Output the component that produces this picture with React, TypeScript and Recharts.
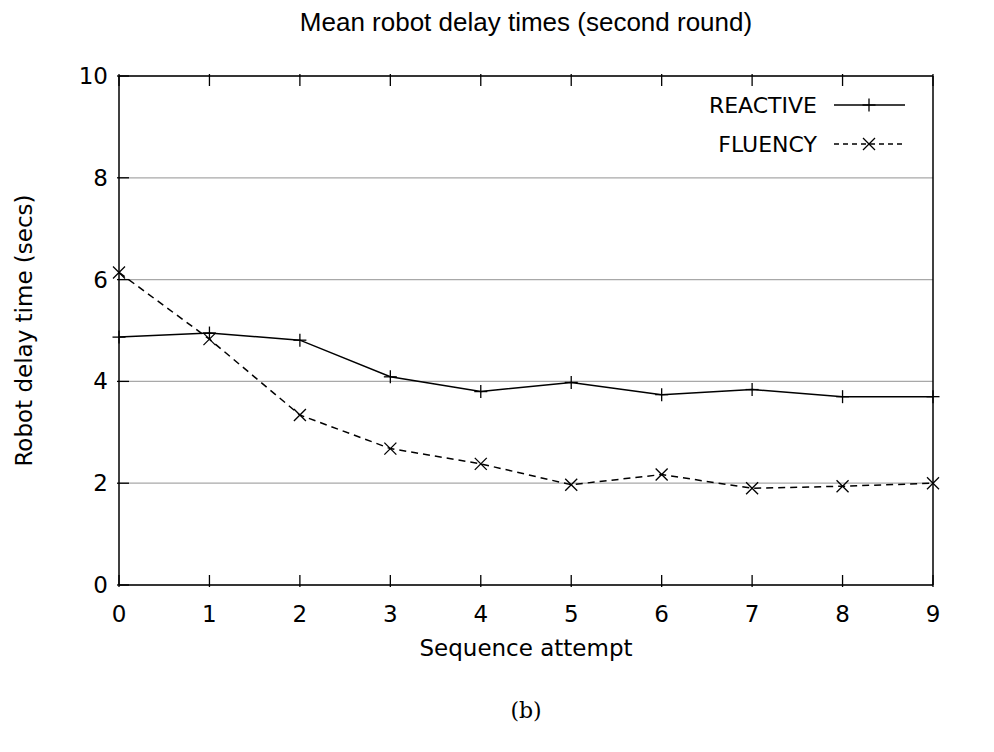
import React from 'react';
import { LineChart, Line, XAxis, YAxis, CartesianGrid, Legend, Label } from 'recharts';

const attempts = [0, 1, 2, 3, 4, 5, 6, 7, 8, 9];
const reactive = [4.87, 4.95, 4.81, 4.09, 3.8, 3.98, 3.74, 3.84, 3.7, 3.7];
const fluency = [6.14, 4.83, 3.34, 2.68, 2.38, 1.97, 2.17, 1.9, 1.94, 2.0];
const seriesNames = ['REACTIVE', 'FLUENCY'];
const xTicks = [0, 1, 2, 3, 4, 5, 6, 7, 8, 9];
const yTicks = [0, 2, 4, 6, 8, 10];

const data = attempts.map((a, i) => ({ attempt: a, reactive: reactive[i], fluency: fluency[i] }));

const FONT = '"DejaVu Sans", Verdana, sans-serif';
const TICK = 12;

function BottomTick({ x, y, payload }: any) {
  return (
    <g>
      <line x1={x} y1={y} x2={x} y2={y - TICK} stroke="#000" strokeWidth={1.3} />
      <text x={x} y={y + 35} textAnchor="middle" fontFamily={FONT} fontSize={23} fill="#000">
        {payload.value}
      </text>
    </g>
  );
}

function TopTick({ x, y }: any) {
  return <line x1={x} y1={y} x2={x} y2={y + TICK} stroke="#000" strokeWidth={1.3} />;
}

function LeftTick({ x, y, payload }: any) {
  return (
    <g>
      <line x1={x} y1={y} x2={x + TICK} y2={y} stroke="#000" strokeWidth={1.3} />
      <text x={x - 9} y={y + 8} textAnchor="end" fontFamily={FONT} fontSize={23} fill="#000">
        {payload.value}
      </text>
    </g>
  );
}

function RightTick({ x, y, payload }: any) {
  return (
    <g>
      <line x1={x} y1={y} x2={x - TICK} y2={y} stroke="#000" strokeWidth={1.3} />
      <text x={x + 16} y={y + 8} textAnchor="start" fontFamily={FONT} fontSize={23} fill="#000">
        {payload.value}
      </text>
    </g>
  );
}

function PlusDot({ cx, cy }: any) {
  const s = 6.5;
  return (
    <g>
      <line x1={cx - s} y1={cy} x2={cx + s} y2={cy} stroke="#000" strokeWidth={1.3} />
      <line x1={cx} y1={cy - s} x2={cx} y2={cy + s} stroke="#000" strokeWidth={1.3} />
    </g>
  );
}

function CrossDot({ cx, cy }: any) {
  const s = 6;
  return (
    <g>
      <line x1={cx - s} y1={cy - s} x2={cx + s} y2={cy + s} stroke="#000" strokeWidth={1.3} />
      <line x1={cx - s} y1={cy + s} x2={cx + s} y2={cy - s} stroke="#000" strokeWidth={1.3} />
    </g>
  );
}

function renderLegend(props: any) {
  const items = [...(props.payload || [])].sort(
    (a: any, b: any) => seriesNames.indexOf(a.value) - seriesNames.indexOf(b.value)
  );
  return (
    <svg width={260} height={90} style={{ display: 'block' }}>
      {items.map((item: any, i: number) => {
        const ly = 27 + i * 39;
        const dashed = item.value === 'FLUENCY';
        return (
          <g key={item.value}>
            <text x={149} y={ly + 8} textAnchor="end" fontFamily={FONT} fontSize={22} fill="#000">
              {item.value}
            </text>
            <line
              x1={166}
              y1={ly}
              x2={237}
              y2={ly}
              stroke="#000"
              strokeWidth={1.3}
              strokeDasharray={dashed ? '5 4' : undefined}
            />
            {dashed ? <CrossDot cx={201} cy={ly} /> : <PlusDot cx={201} cy={ly} />}
          </g>
        );
      })}
    </svg>
  );
}

export default function App() {
  return (
    <div style={{ position: 'relative', width: 978, height: 744 }}>
      <LineChart width={978} height={744} data={data} margin={{ top: 38, right: 8, bottom: 47, left: 51 }}>
        <CartesianGrid xAxisId="bottom" yAxisId="left" vertical={false} stroke="#a8a8a8" strokeWidth={1.2} />
        <XAxis
          xAxisId="bottom"
          dataKey="attempt"
          type="number"
          domain={[0, 9]}
          ticks={xTicks}
          height={120}
          tickSize={0}
          tickLine={false}
          tick={<BottomTick />}
          axisLine={{ stroke: '#000', strokeWidth: 1.5 }}
          interval={0}
        >
          <Label
            content={({ viewBox }: any) => (
              <text
                x={viewBox.x + viewBox.width / 2}
                y={viewBox.y + 71}
                textAnchor="middle"
                fontFamily={FONT}
                fontSize={23}
                fill="#000"
              >
                Sequence attempt
              </text>
            )}
          />
        </XAxis>
        <XAxis
          xAxisId="top"
          orientation="top"
          dataKey="attempt"
          type="number"
          domain={[0, 9]}
          ticks={xTicks}
          height={30}
          tickSize={0}
          tickLine={false}
          tick={<TopTick />}
          axisLine={{ stroke: '#000', strokeWidth: 1.5 }}
          interval={0}
        />
        <YAxis
          yAxisId="left"
          type="number"
          domain={[0, 10]}
          ticks={yTicks}
          width={60}
          tickSize={0}
          tickLine={false}
          tick={<LeftTick />}
          axisLine={{ stroke: '#000', strokeWidth: 1.5 }}
          interval={0}
        >
          <Label
            content={({ viewBox }: any) => {
              const cx = viewBox.x - 27;
              const cy = viewBox.y + viewBox.height / 2;
              return (
                <text
                  x={cx}
                  y={cy}
                  transform={`rotate(-90 ${cx} ${cy})`}
                  textAnchor="middle"
                  fontFamily={FONT}
                  fontSize={23}
                  fill="#000"
                >
                  Robot delay time (secs)
                </text>
              );
            }}
          />
        </YAxis>
        <YAxis
          yAxisId="right"
          orientation="right"
          type="number"
          domain={[0, 10]}
          ticks={yTicks}
          width={45}
          tickSize={0}
          tickLine={false}
          tick={<RightTick />}
          axisLine={{ stroke: '#000', strokeWidth: 1.5 }}
          interval={0}
        />
        <Legend
          layout="vertical"
          align="center"
          verticalAlign="middle"
          content={renderLegend}
          wrapperStyle={{ top: 70, left: 660, width: 260, height: 90 }}
        />
        <Line
          xAxisId="bottom"
          yAxisId="left"
          dataKey="reactive"
          name={seriesNames[0]}
          stroke="#000"
          strokeWidth={1.5}
          dot={(p: any) => <PlusDot key={'rp' + p.index} {...p} />}
          activeDot={false}
          isAnimationActive={false}
        />
        <Line
          xAxisId="bottom"
          yAxisId="left"
          dataKey="fluency"
          name={seriesNames[1]}
          stroke="#000"
          strokeWidth={1.5}
          strokeDasharray="7 5"
          dot={(p: any) => <CrossDot key={'fx' + p.index} {...p} />}
          activeDot={false}
          isAnimationActive={false}
        />
      </LineChart>
      <svg width={978} height={744} style={{ position: 'absolute', left: 0, top: 0, pointerEvents: 'none' }}>
        <text x={518} y={23} textAnchor="middle" fontFamily='"Liberation Sans", Arial, sans-serif' fontSize={26} fill="#000">
          Mean robot delay times (second round)
        </text>
        <text x={518} y={710} textAnchor="middle" fontFamily='"DejaVu Serif", "Liberation Serif", serif' fontSize={22} fill="#000">
          (b)
        </text>
      </svg>
    </div>
  );
}
